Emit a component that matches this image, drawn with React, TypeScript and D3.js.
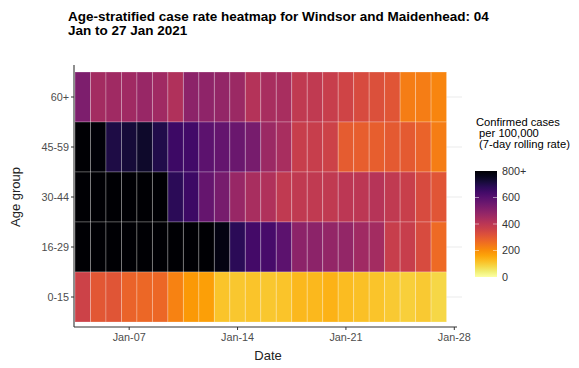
import React from "react";
import * as d3 from "d3";

const days: number[] = d3.range(4, 28);
const ageGroups: string[] = ["60+", "45-59", "30-44", "16-29", "0-15"];
const xTickDays: number[] = [7, 14, 21, 28];
const legendTicks: number[] = [0, 200, 400, 600, 800];
const legendLabels: string[] = ["0", "200", "400", "600", "800+"];

const rate60plus: number[] = [525, 450, 455, 455, 470, 455, 425, 495, 490, 480, 465, 415, 440, 440, 390, 390, 375, 355, 335, 325, 310, 230, 230, 215];
const rate45to59: number[] = [820, 790, 705, 720, 740, 700, 650, 640, 590, 575, 560, 535, 465, 440, 375, 375, 360, 295, 290, 290, 300, 300, 280, 230];
const rate30to44: number[] = [880, 870, 860, 850, 840, 810, 680, 650, 570, 535, 470, 440, 425, 390, 390, 390, 390, 400, 400, 410, 390, 370, 335, 310];
const rate16to29: number[] = [900, 900, 890, 880, 870, 860, 850, 830, 810, 775, 680, 635, 630, 590, 495, 495, 480, 480, 455, 450, 375, 375, 335, 265];
const rate0to15: number[] = [360, 305, 310, 280, 270, 270, 220, 180, 170, 112, 105, 112, 105, 110, 130, 130, 140, 125, 118, 112, 102, 92, 102, 80];

const seriesByGroup: Record<string, number[]> = {
  "60+": rate60plus,
  "45-59": rate45to59,
  "30-44": rate30to44,
  "16-29": rate16to29,
  "0-15": rate0to15,
};

const dayDate = (d: number) => new Date(Date.UTC(2021, 0, d));

export default function App() {
  const x = d3
    .scaleUtc()
    .domain([new Date(Date.UTC(2021, 0, 3, 12)), dayDate(28)])
    .range([75, 454.3]);
  const dayW = x(dayDate(5)) - x(dayDate(4));
  const y = d3.scaleBand<string>().domain(ageGroups).range([72, 322]).padding(0);
  const color = (v: number) => d3.interpolateInferno(1 - Math.max(0, Math.min(800, v)) / 800);
  const fmt = d3.utcFormat("%b-%d");

  const legY = d3.scaleLinear().domain([0, 800]).range([277, 171]);
  const barX = 475;
  const barW = 22;
  const stops = d3.range(0, 1.0001, 0.05);

  const font = "'Liberation Sans', Arial, sans-serif";

  return (
    <svg width={579} height={368} style={{ display: "block", position: "absolute", left: 0, top: 0 }} fontFamily={font}>
      <rect width={579} height={368} fill="#ffffff" />
      <text x={68} y={21} fontSize={13.5} fontWeight="bold" fill="#000">
        Age-stratified case rate heatmap for Windsor and Maidenhead: 04
      </text>
      <text x={68} y={35} fontSize={13.5} fontWeight="bold" fill="#000">
        Jan to 27 Jan 2021
      </text>

      {/* gridlines */}
      {ageGroups.map((g) => (
        <line key={"g" + g} x1={74} x2={462} y1={(y(g) as number) + y.bandwidth() / 2} y2={(y(g) as number) + y.bandwidth() / 2} stroke="#ebebeb" strokeWidth={1} />
      ))}

      {/* cells */}
      {ageGroups.map((g) =>
        seriesByGroup[g].map((v, i) => (
          <rect
            key={g + i}
            x={x(dayDate(days[i])) - dayW / 2}
            y={y(g) as number}
            width={dayW}
            height={y.bandwidth()}
            fill={color(v)}
            stroke="rgba(255,255,255,0.28)"
            strokeWidth={0.9}
          />
        ))
      )}

      {/* axes */}
      <line x1={74} x2={74} y1={65} y2={327} stroke="#333" strokeWidth={1.1} />
      <line x1={74} x2={457} y1={327} y2={327} stroke="#333" strokeWidth={1.1} />
      {ageGroups.map((g) => {
        const cy = (y(g) as number) + y.bandwidth() / 2;
        return (
          <g key={"yt" + g}>
            <line x1={71} x2={74} y1={cy} y2={cy} stroke="#333" />
            <text x={69} y={cy} dy="0.35em" textAnchor="end" fontSize={10.8} fill="#4d4d4d">
              {g}
            </text>
          </g>
        );
      })}
      {xTickDays.map((d) => {
        const cx = x(dayDate(d));
        return (
          <g key={"xt" + d}>
            <line x1={cx} x2={cx} y1={327} y2={330} stroke="#333" />
            <text x={cx} y={341} textAnchor="middle" fontSize={10.8} fill="#4d4d4d">
              {fmt(dayDate(d))}
            </text>
          </g>
        );
      })}
      <text x={268} y={360} textAnchor="middle" fontSize={13} fill="#222">
        Date
      </text>
      <text transform="translate(20,197) rotate(-90)" textAnchor="middle" fontSize={13} fill="#222">
        Age group
      </text>

      {/* legend */}
      <text x={476} y={126} fontSize={11.2} fill="#000">Confirmed cases</text>
      <text x={476} y={137} fontSize={11.2} fill="#000">{"\u00a0per 100,000"}</text>
      <text x={476} y={148} fontSize={11.2} fill="#000">{"\u00a0(7-day rolling rate)"}</text>
      <defs>
        <linearGradient id="legGrad" x1="0" y1="1" x2="0" y2="0">
          {stops.map((s) => (
            <stop key={s} offset={s} stopColor={d3.interpolateInferno(1 - s)} />
          ))}
        </linearGradient>
      </defs>
      <rect x={barX} y={legY(800)} width={barW} height={legY(0) - legY(800)} fill="url(#legGrad)" />
      {legendTicks.map((t, i) => (
        <g key={"lt" + t}>
          {t > 0 && t < 800 && (
            <>
              <line x1={barX} x2={barX + 4} y1={legY(t)} y2={legY(t)} stroke="rgba(255,255,255,0.5)" />
              <line x1={barX + barW - 4} x2={barX + barW} y1={legY(t)} y2={legY(t)} stroke="rgba(255,255,255,0.5)" />
            </>
          )}
          <text x={502} y={legY(t)} dy="0.35em" fontSize={10.8} fill="#333">
            {legendLabels[i]}
          </text>
        </g>
      ))}
    </svg>
  );
}
